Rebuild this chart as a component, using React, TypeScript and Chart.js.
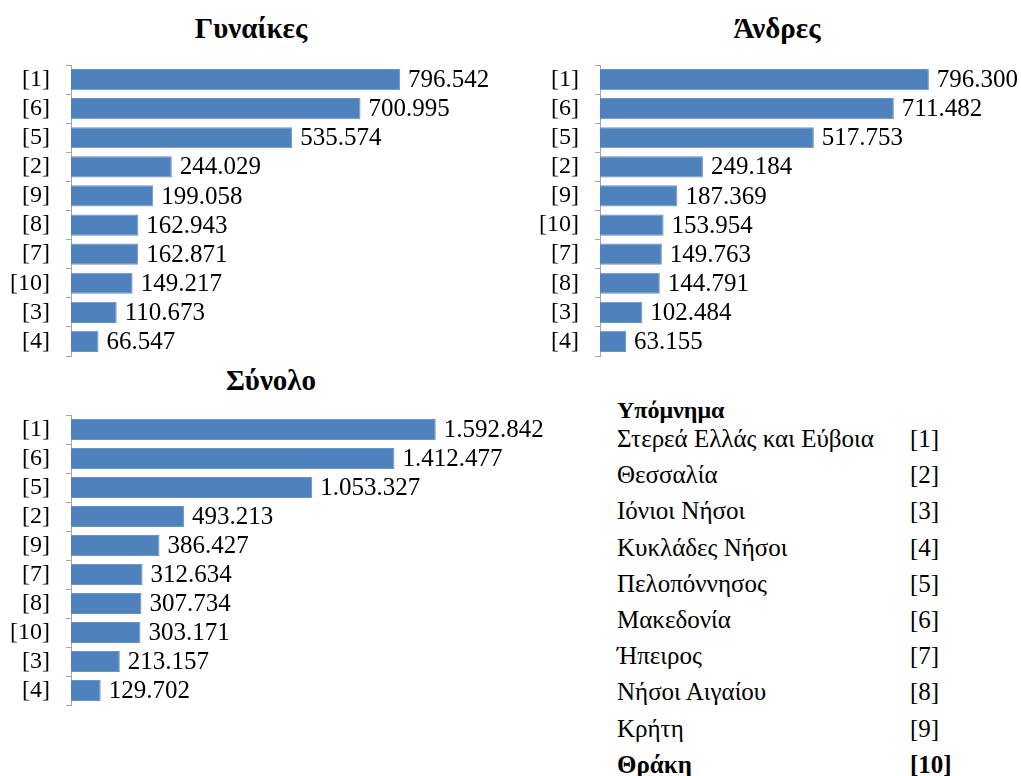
import React, { useEffect, useRef } from "react";
import { Chart, registerables } from "chart.js";

Chart.register(...registerables);

const womenLabels = ["[1]", "[6]", "[5]", "[2]", "[9]", "[8]", "[7]", "[10]", "[3]", "[4]"];
const womenValues = [796542, 700995, 535574, 244029, 199058, 162943, 162871, 149217, 110673, 66547];

const menLabels = ["[1]", "[6]", "[5]", "[2]", "[9]", "[10]", "[7]", "[8]", "[3]", "[4]"];
const menValues = [796300, 711482, 517753, 249184, 187369, 153954, 149763, 144791, 102484, 63155];

const totalLabels = ["[1]", "[6]", "[5]", "[2]", "[9]", "[7]", "[8]", "[10]", "[3]", "[4]"];
const totalValues = [1592842, 1412477, 1053327, 493213, 386427, 312634, 307734, 303171, 213157, 129702];

const legendNames = [
  "Στερεά Ελλάς και Εύβοια",
  "Θεσσαλία",
  "Ιόνιοι Νήσοι",
  "Κυκλάδες Νήσοι",
  "Πελοπόννησος",
  "Μακεδονία",
  "Ήπειρος",
  "Νήσοι Αιγαίου",
  "Κρήτη",
  "Θράκη",
];
const legendCodes = ["[1]", "[2]", "[3]", "[4]", "[5]", "[6]", "[7]", "[8]", "[9]", "[10]"];

const FONT = "'Liberation Serif', 'Times New Roman', serif";
const BAR = "#4F81BD";
const AXIS = "#A6A6A6";

function fmt(n: number): string {
  return String(Math.round(n)).replace(/\B(?=(\d{3})+(?!\d))/g, ".");
}

const valueLabels = {
  id: "valueLabels",
  afterDatasetsDraw(chart: any) {
    const ctx = chart.ctx;
    const meta = chart.getDatasetMeta(0);
    const data = chart.data.datasets[0].data as number[];
    ctx.save();
    ctx.font = `25px ${FONT}`;
    ctx.fillStyle = "#000";
    ctx.textAlign = "left";
    ctx.textBaseline = "middle";
    meta.data.forEach((el: any, i: number) => {
      ctx.fillText(fmt(data[i]), el.x + 8, el.y + 1);
    });
    ctx.restore();
  },
};

type BarProps = {
  labels: string[];
  values: number[];
  left: number;
  top: number;
  width: number;
  height: number;
  axisWidth: number;
  xMax: number;
  padRight: number;
};

function BarChart(p: BarProps) {
  const ref = useRef<HTMLCanvasElement | null>(null);
  useEffect(() => {
    if (!ref.current) return;
    const chart = new Chart(ref.current, {
      type: "bar",
      data: {
        labels: p.labels,
        datasets: [
          {
            data: p.values,
            backgroundColor: BAR,
            borderColor: "#6A93C8",
            borderWidth: 1,
            barPercentage: 0.73,
            categoryPercentage: 1,
          },
        ],
      },
      options: {
        indexAxis: "y",
        responsive: false,
        animation: false,
        devicePixelRatio: 1,
        layout: { padding: { top: 65, bottom: 2, left: 0, right: p.padRight } },
        plugins: {
          legend: { display: false },
          tooltip: { enabled: false },
          title: { display: false },
        },
        scales: {
          x: { display: false, min: 0, max: p.xMax },
          y: {
            offset: true,
            grid: {
              display: true,
              drawOnChartArea: false,
              drawTicks: true,
              tickLength: 5,
              color: AXIS,
              offset: true,
            },
            border: { display: true, color: AXIS, width: 1 },
            ticks: {
              color: "#000",
              font: { family: FONT, size: 24 },
              padding: 16,
              autoSkip: false,
            },
            afterFit: (scale: any) => {
              scale.width = p.axisWidth;
              scale.paddingTop = 0;
              scale.paddingBottom = 0;
            },
          },
        },
      },
      plugins: [valueLabels],
    } as any);
    return () => chart.destroy();
  }, []);
  return (
    <canvas
      ref={ref}
      width={p.width}
      height={p.height}
      style={{ position: "absolute", left: p.left, top: p.top, width: p.width, height: p.height }}
    />
  );
}

function Title({ text, cx, cy }: { text: string; cx: number; cy: number }) {
  return (
    <div
      style={{
        position: "absolute",
        left: cx - 150,
        width: 300,
        top: cy - 18,
        height: 36,
        lineHeight: "36px",
        textAlign: "center",
        fontFamily: FONT,
        fontWeight: "bold",
        fontSize: 29,
        color: "#000",
      }}
    >
      {text}
    </div>
  );
}

export default function App() {
  return (
    <div
      style={{
        position: "absolute",
        left: 0,
        top: 0,
        width: 1021,
        height: 776,
        background: "#fff",
        overflow: "hidden",
      }}
    >
      <Title text="Γυναίκες" cx={251} cy={28} />
      <Title text="Άνδρες" cx={777} cy={28} />
      <Title text="Σύνολο" cx={271} cy={380} />
      <BarChart labels={womenLabels} values={womenValues} left={0} top={0} width={520} height={358} axisWidth={71} xMax={1000000} padRight={36} />
      <BarChart labels={menLabels} values={menValues} left={520} top={0} width={501} height={358} axisWidth={80} xMax={1000000} padRight={8} />
      <BarChart labels={totalLabels} values={totalValues} left={0} top={350} width={580} height={357} axisWidth={71} xMax={2000000} padRight={51} />
      <div
        style={{
          position: "absolute",
          left: 617,
          top: 410 - 18,
          height: 36,
          lineHeight: "36px",
          fontFamily: FONT,
          fontWeight: "bold",
          fontSize: 24,
          color: "#000",
          whiteSpace: "nowrap",
        }}
      >
        Υπόμνημα
      </div>
      {legendNames.map((name, i) => {
        const cy = 439 + i * 36.2;
        const bold = i === legendNames.length - 1;
        const common: React.CSSProperties = {
          position: "absolute",
          top: cy - 18,
          height: 36,
          lineHeight: "36px",
          fontFamily: FONT,
          fontWeight: bold ? "bold" : "normal",
          fontSize: 25,
          color: "#000",
          whiteSpace: "nowrap",
        };
        return (
          <React.Fragment key={i}>
            <div style={{ ...common, left: 617 }}>{name}</div>
            <div style={{ ...common, left: 910 }}>{legendCodes[i]}</div>
          </React.Fragment>
        );
      })}
    </div>
  );
}
